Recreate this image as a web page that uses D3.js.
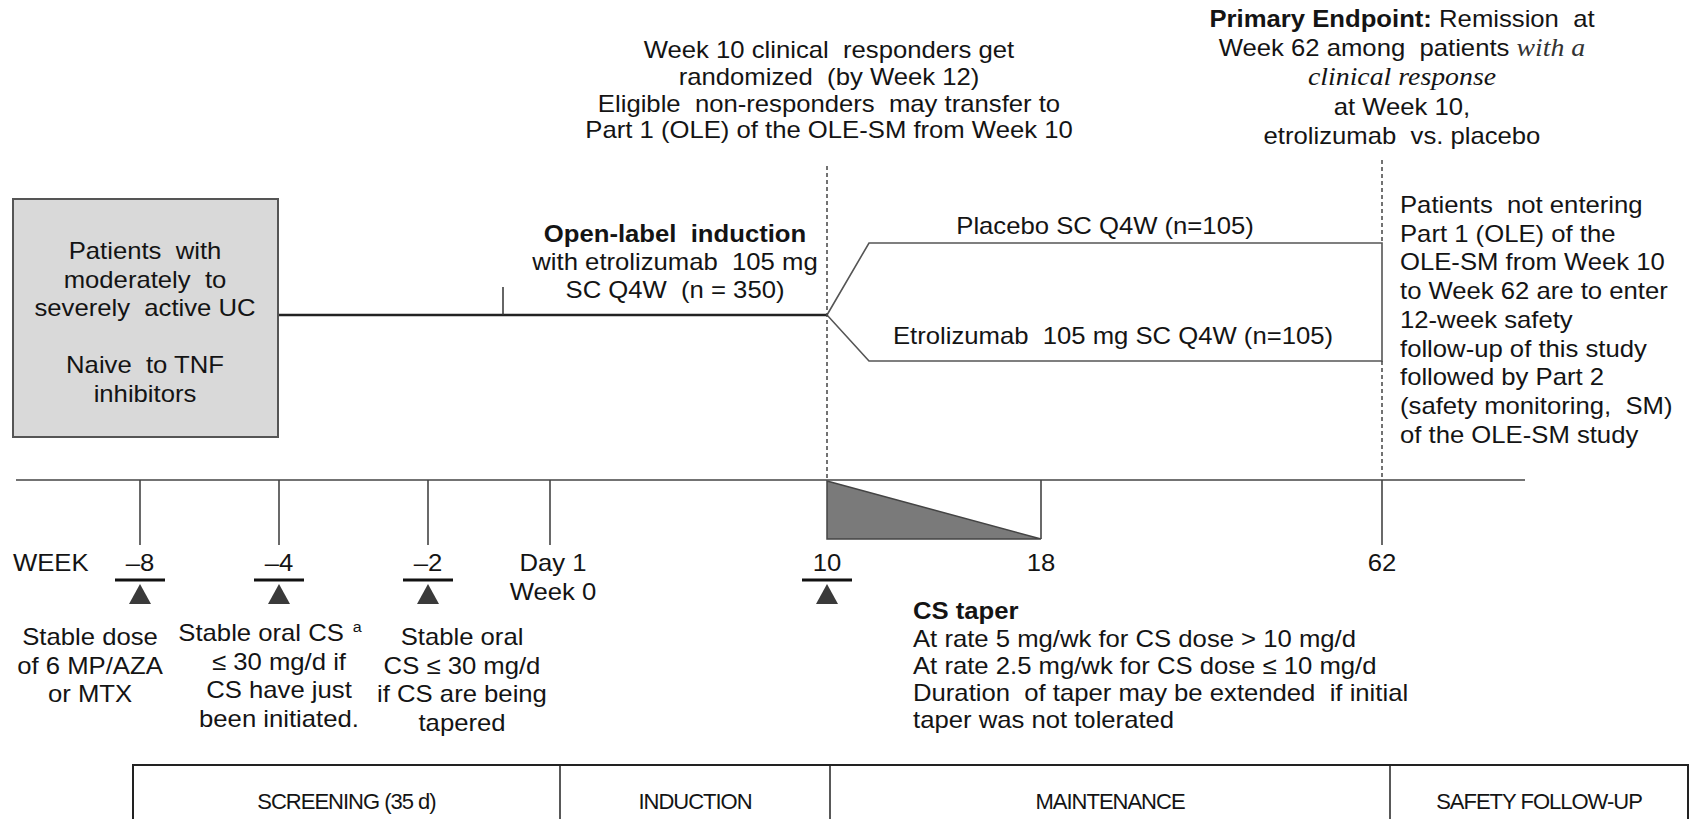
<!DOCTYPE html>
<html>
<head>
<meta charset="utf-8">
<script src="https://cdn.jsdelivr.net/npm/d3@7"></script>
<style>
  body { margin: 0; background: #fff; }
  svg { display: block; font-family: "Liberation Sans", Arial, sans-serif; }
  text { white-space: pre; fill: #141414; }
</style>
</head>
<body>
<svg id="chart" width="1690" height="819"></svg>
<script>
// timeline milestones (weeks) and their labels
const weeks = [-8, -4, -2, 0, 10, 18, 62];
const weekLabels = [["\u20138"], ["\u20134"], ["\u20132"], ["Day 1", "Week 0"], ["10"], ["18"], ["62"]];
// weeks carrying a stable-dose marker
const markerWeeks = [-8, -4, -2, 10];
const markerNotes = [
  ["Stable dose", "of 6 MP/AZA", "or MTX"],
  ["Stable oral CS", "\u2264 30 mg/d if", "CS have just", "been initiated."],
  ["Stable oral", "CS \u2264 30 mg/d", "if CS are being", "tapered"]
];
const boxLines = ["Patients  with", "moderately  to", "severely  active UC", "", "Naive  to TNF", "inhibitors"];
const topNote = ["Week 10 clinical  responders get", "randomized  (by Week 12)", "Eligible  non-responders  may transfer to", "Part 1 (OLE) of the OLE-SM from Week 10"];
const inductionLines = ["with etrolizumab  105 mg", "SC Q4W  (n = 350)"];
const arms = ["Placebo SC Q4W (n=105)", "Etrolizumab  105 mg SC Q4W (n=105)"];
const taperLines = ["At rate 5 mg/wk for CS dose > 10 mg/d", "At rate 2.5 mg/wk for CS dose \u2264 10 mg/d", "Duration  of taper may be extended  if initial", "taper was not tolerated"];
const followLines = ["Patients  not entering", "Part 1 (OLE) of the", "OLE-SM from Week 10", "to Week 62 are to enter", "12-week safety", "follow-up of this study", "followed by Part 2", "(safety monitoring,  SM)", "of the OLE-SM study"];
const periods = ["SCREENING (35 d)", "INDUCTION", "MAINTENANCE", "SAFETY FOLLOW-UP"];

const svg = d3.select("#chart");
const FS = 24, SX = 1.07;

// piecewise scale: the week axis is not drawn to scale in the original
const x = d3.scaleLinear()
  .domain(weeks)
  .range([140, 279, 428, 550, 827, 1041, 1382]);

const yArm = 315, yTop = 243, yBot = 361, yAxis = 480;

// text is slightly wider than plain Arial in the source figure
function lines(g, data, xPos, y0, dy, anchor) {
  return g.append("g").selectAll("text")
    .data(data)
    .join("text")
    .attr("transform", (d, i) => `translate(${typeof xPos === "function" ? xPos(d, i) : xPos},${y0 + i * dy}) scale(${SX},1)`)
    .attr("text-anchor", anchor || "middle")
    .attr("font-size", FS)
    .text(d => d);
}

// patient box
svg.append("rect")
  .attr("x", 13).attr("y", 199).attr("width", 265).attr("height", 238)
  .attr("fill", "#d9d9d9").attr("stroke", "#555").attr("stroke-width", 2);
lines(svg, boxLines, 145, 259, 28.5);

// induction arm line
svg.append("line")
  .attr("x1", 279).attr("x2", x(10))
  .attr("y1", yArm).attr("y2", yArm)
  .attr("stroke", "#222").attr("stroke-width", 2.5);
svg.append("line")
  .attr("x1", 503).attr("x2", 503)
  .attr("y1", 287).attr("y2", yArm)
  .attr("stroke", "#333").attr("stroke-width", 1.5);

// randomised arms
const forkX = x(10) + 42;
svg.append("path")
  .attr("d", `M${x(10)},${yArm} L${forkX},${yTop} L${x(62)},${yTop} L${x(62)},${yBot} L${forkX},${yBot} Z`)
  .attr("fill", "none").attr("stroke", "#555").attr("stroke-width", 1.6);

// dashed guides at weeks 10 and 62
const guides = [[x(10), 166, yAxis], [x(62), 160, yTop], [x(62), yBot, yAxis]];
svg.append("g").selectAll("line")
  .data(guides)
  .join("line")
  .attr("x1", d => d[0]).attr("x2", d => d[0])
  .attr("y1", d => d[1]).attr("y2", d => d[2])
  .attr("stroke", "#444").attr("stroke-width", 1.5).attr("stroke-dasharray", "4,3");

// timeline axis
svg.append("line")
  .attr("x1", 16).attr("x2", 1525).attr("y1", yAxis).attr("y2", yAxis)
  .attr("stroke", "#444").attr("stroke-width", 1.6);
svg.append("g").selectAll("line")
  .data(weeks.filter(w => w !== 10))
  .join("line")
  .attr("x1", d => x(d)).attr("x2", d => x(d))
  .attr("y1", yAxis).attr("y2", d => d === 18 ? 539 : 545)
  .attr("stroke", "#444").attr("stroke-width", 1.6);

// CS taper wedge
svg.append("path")
  .attr("d", `M${x(10)},${yAxis + 1} L${x(10)},539 L${x(18)},539 Z`)
  .attr("fill", "#7a7a7a").attr("stroke", "#444").attr("stroke-width", 1.5);

// week labels
lines(svg, ["WEEK"], 13, 571, 0, "start");
weeks.forEach((w, i) => {
  lines(svg, weekLabels[i], x(w) + (w === 0 ? 3 : 0), 571, 29);
});

// stable-dose markers
const mk = svg.append("g").selectAll("g")
  .data(markerWeeks)
  .join("g")
  .attr("transform", d => `translate(${x(d)},0)`);
mk.append("line")
  .attr("x1", -25).attr("x2", 25).attr("y1", 580).attr("y2", 580)
  .attr("stroke", "#111").attr("stroke-width", 3);
mk.append("path")
  .attr("d", "M0,584 L11,604 L-11,604 Z")
  .attr("fill", "#3a3a3a");

// notes under the markers
const noteX = [90, 279, 462];
const noteY = [645, 641, 645];
markerNotes.forEach((n, i) => {
  const t = lines(svg, n, (d, j) => noteX[i] - (i === 1 && j === 0 ? 9 : 0), noteY[i], 28.5);
  if (i === 1) {
    t.filter((d, j) => j === 0).append("tspan")
      .attr("font-size", 15).attr("dy", -9).text("  a");
  }
});

// CS taper text
lines(svg, ["CS taper"], 913, 619, 0, "start").attr("font-weight", "bold");
lines(svg, taperLines, 913, 647, 27, "start");

// top note at week 10
lines(svg, topNote, 829, 58, 26.8);

// open-label induction
lines(svg, ["Open-label  induction"], 675, 242, 0).attr("font-weight", "bold");
lines(svg, inductionLines, 675, 270, 27.5);

// arm labels
lines(svg, arms, (d, i) => i === 0 ? 1105 : 1113, 234, 110);

// primary endpoint
const pe = svg.append("g");
const serif = "'Liberation Serif', serif";
const pe1 = lines(pe, ["x"], 1402, 27, 0).text(null);
pe1.append("tspan").attr("font-weight", "bold").text("Primary Endpoint:");
pe1.append("tspan").text(" Remission  at");
const pe2 = lines(pe, ["x"], 1402, 56, 0).text(null);
pe2.append("tspan").text("Week 62 among  patients ");
pe2.append("tspan").attr("font-family", serif).attr("font-style", "italic").attr("font-size", 26).attr("fill", "#333").text("with a");
lines(pe, ["clinical response"], 1402, 85, 0)
  .attr("font-family", serif).attr("font-style", "italic").attr("font-size", 26).attr("fill", "#333");
lines(pe, ["at Week 10,", "etrolizumab  vs. placebo"], 1402, 115, 28.5);

// follow-up note
lines(svg, followLines, 1400, 213, 28.7, "start");

// period table
const cellBounds = [133, 560, 830, 1390, 1688];
const tb = svg.append("g");
tb.append("rect")
  .attr("x", cellBounds[0]).attr("y", 765)
  .attr("width", cellBounds[4] - cellBounds[0]).attr("height", 60)
  .attr("fill", "#fff").attr("stroke", "#222").attr("stroke-width", 2);
tb.selectAll("line")
  .data(cellBounds.slice(1, 4))
  .join("line")
  .attr("x1", d => d).attr("x2", d => d).attr("y1", 765).attr("y2", 819)
  .attr("stroke", "#222").attr("stroke-width", 1.5);
tb.selectAll("text")
  .data(periods)
  .join("text")
  .attr("x", (d, i) => (cellBounds[i] + cellBounds[i + 1]) / 2)
  .attr("y", 809)
  .attr("text-anchor", "middle")
  .attr("font-size", 22)
  .attr("letter-spacing", -1)
  .text(d => d);
</script>
</body>
</html>
